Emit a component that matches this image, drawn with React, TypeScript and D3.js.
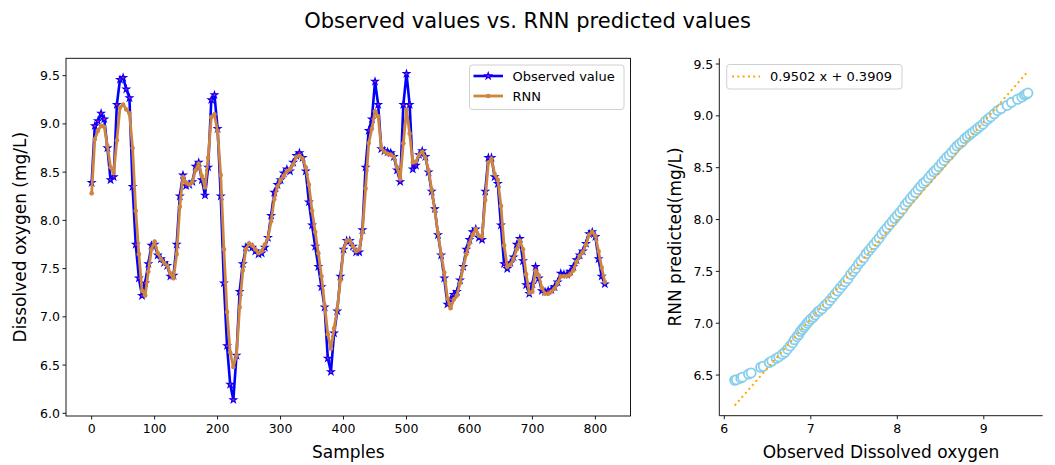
import React from 'react';
import * as d3 from 'd3';

// ---------- data ----------
const samples: number[] = d3.range(0, 816, 5);

const observed: number[] = [
  8.39, 8.98, 9.03, 9.11, 9.05, 8.75, 8.42, 8.45, 9.20, 9.46,
  9.48, 9.36, 9.27, 8.35, 7.75, 7.40, 7.22, 7.35, 7.55, 7.74,
  7.75, 7.64, 7.60, 7.56, 7.53, 7.42, 7.43, 7.75, 8.25, 8.47,
  8.36, 8.37, 8.40, 8.56, 8.60, 8.42, 8.26, 8.55, 9.25, 9.30,
  8.95, 8.25, 7.35, 6.70, 6.30, 6.14, 6.60, 7.26, 7.55, 7.72,
  7.74, 7.72, 7.68, 7.65, 7.66, 7.72, 7.82, 8.05, 8.29, 8.37,
  8.42, 8.49, 8.53, 8.51, 8.60, 8.67, 8.70, 8.65, 8.51, 8.19,
  7.95, 7.73, 7.52, 7.31, 7.10, 6.57, 6.43, 6.83, 7.06, 7.42,
  7.70, 7.79, 7.79, 7.73, 7.67, 7.67, 7.90, 8.55, 8.93, 9.05,
  9.44, 9.20, 8.74, 8.72, 8.71, 8.70, 8.66, 8.52, 8.40, 9.20,
  9.52, 9.20, 8.53, 8.57, 8.68, 8.72, 8.66, 8.50, 8.30, 8.12,
  7.85, 7.64, 7.40, 7.13, 7.18, 7.23, 7.26, 7.38, 7.52, 7.70,
  7.80, 7.88, 7.91, 7.82, 7.80, 8.30, 8.65, 8.65, 8.45, 8.38,
  7.95, 7.55, 7.50, 7.56, 7.62, 7.75, 7.81, 7.58, 7.33, 7.24,
  7.34, 7.52, 7.40, 7.27, 7.26, 7.27, 7.28, 7.31, 7.36, 7.45,
  7.44, 7.44, 7.47, 7.52, 7.59, 7.64, 7.68, 7.76, 7.86, 7.88,
  7.83, 7.60, 7.42, 7.34,
];

const rnn: number[] = [
  8.28, 8.84, 8.93, 8.98, 8.97, 8.77, 8.55, 8.49, 8.83, 9.17,
  9.20, 9.15, 9.11, 8.75, 8.10, 7.65, 7.27, 7.22, 7.47, 7.70,
  7.78, 7.66, 7.60, 7.56, 7.53, 7.45, 7.40, 7.65, 8.14, 8.45,
  8.39, 8.37, 8.40, 8.52, 8.59, 8.46, 8.34, 8.65, 9.07, 9.10,
  8.92, 8.47, 7.70, 7.05, 6.63, 6.48, 6.60, 7.10, 7.48, 7.70,
  7.76, 7.74, 7.70, 7.66, 7.68, 7.75, 7.82, 7.99, 8.22, 8.35,
  8.42, 8.46, 8.51, 8.53, 8.58, 8.66, 8.67, 8.64, 8.55, 8.37,
  8.10, 7.88, 7.66, 7.42, 7.12, 6.82, 6.67, 6.88, 7.08, 7.38,
  7.70, 7.79, 7.79, 7.73, 7.68, 7.70, 7.88, 8.33, 8.80, 8.95,
  9.13, 9.08, 8.75, 8.71, 8.69, 8.68, 8.66, 8.55, 8.43, 8.80,
  9.15, 8.90, 8.60, 8.61, 8.68, 8.71, 8.65, 8.52, 8.32, 8.10,
  7.87, 7.65, 7.46, 7.19, 7.09, 7.18, 7.22, 7.35, 7.51, 7.65,
  7.76, 7.85, 7.91, 7.84, 7.83, 8.21, 8.60, 8.64, 8.48, 8.42,
  8.15, 7.74, 7.52, 7.54, 7.60, 7.70, 7.79, 7.70, 7.44, 7.25,
  7.26, 7.48, 7.43, 7.30, 7.24, 7.24, 7.26, 7.29, 7.35, 7.42,
  7.42, 7.42, 7.44, 7.48, 7.57, 7.63, 7.67, 7.75, 7.85, 7.88,
  7.84, 7.68, 7.51, 7.36,
];

// scatter panel (observed vs predicted)
const scatterObs: number[] = [
  6.12, 6.14, 6.19, 6.21, 6.28, 6.31, 6.42, 6.45, 6.52, 6.55,
  6.60, 6.63, 6.67, 6.70, 6.73, 6.76, 6.79, 6.81, 6.84, 6.86,
  6.88, 6.90, 6.92, 6.94, 6.96, 6.98, 7.00, 7.03, 7.05, 7.08,
  7.10, 7.13, 7.16, 7.19, 7.22, 7.25, 7.28, 7.31, 7.34, 7.37,
  7.40, 7.43, 7.46, 7.49, 7.52, 7.55, 7.58, 7.61, 7.64, 7.67,
  7.70, 7.73, 7.76, 7.79, 7.82, 7.85, 7.88, 7.91, 7.94, 7.97,
  8.00, 8.03, 8.06, 8.09, 8.12, 8.15, 8.18, 8.21, 8.24, 8.27,
  8.30, 8.33, 8.36, 8.39, 8.42, 8.45, 8.48, 8.51, 8.54, 8.57,
  8.60, 8.63, 8.66, 8.69, 8.72, 8.75, 8.78, 8.81, 8.84, 8.87,
  8.90, 8.93, 8.96, 8.99, 9.02, 9.05, 9.08, 9.12, 9.16, 9.20,
  9.27, 9.32, 9.39, 9.44, 9.47, 9.49, 9.51,
];
const scatterPred: number[] = [
  6.45, 6.455, 6.47, 6.48, 6.51, 6.52, 6.575, 6.585, 6.62, 6.635,
  6.66, 6.675, 6.70, 6.72, 6.75, 6.78, 6.81, 6.84, 6.87, 6.89,
  6.92, 6.94, 6.96, 6.98, 7.00, 7.02, 7.04, 7.06, 7.08, 7.11,
  7.12, 7.14, 7.17, 7.19, 7.22, 7.25, 7.28, 7.31, 7.34, 7.37,
  7.40, 7.43, 7.47, 7.50, 7.53, 7.57, 7.60, 7.63, 7.67, 7.70,
  7.73, 7.76, 7.79, 7.82, 7.86, 7.89, 7.92, 7.95, 7.98, 8.01,
  8.04, 8.07, 8.10, 8.14, 8.17, 8.20, 8.23, 8.26, 8.29, 8.32,
  8.35, 8.37, 8.40, 8.43, 8.46, 8.48, 8.51, 8.54, 8.57, 8.60,
  8.62, 8.65, 8.68, 8.71, 8.73, 8.75, 8.78, 8.80, 8.82, 8.84,
  8.86, 8.88, 8.90, 8.92, 8.95, 8.97, 8.99, 9.02, 9.05, 9.07,
  9.10, 9.13, 9.16, 9.18, 9.20, 9.21, 9.22,
];

const fitSlope = 0.9502;
const fitIntercept = 0.3909;

const leftXTicks = [0, 100, 200, 300, 400, 500, 600, 700, 800];
const leftYTicks = [6.0, 6.5, 7.0, 7.5, 8.0, 8.5, 9.0, 9.5];
const rightXTicks = [6, 7, 8, 9];
const rightYTicks = [6.5, 7.0, 7.5, 8.0, 8.5, 9.0, 9.5];

const titleText = 'Observed values vs. RNN predicted values';
const legendLabels = ['Observed value', 'RNN'];
const fitLabel = `${fitSlope.toFixed(4)} x + ${fitIntercept.toFixed(4)}`;

// ---------- component ----------
const FONT = 'DejaVu Sans, sans-serif';
const BLUE = '#0000ff';
const PERU = '#cd853f';
const SKY = '#87ceeb';
const ORANGE = '#ffa500';

export default function App() {
  const W = 1055;
  const H = 465;

  // left panel
  const L = { x0: 66, x1: 630.5, y0: 58.3, y1: 416 };
  const lx = d3.scaleLinear().domain([-40.75, 855.75]).range([L.x0, L.x1]);
  const ly = d3.scaleLinear().domain([5.972, 9.68]).range([L.y1, L.y0]);

  // right panel
  const R = { x0: 719.3, x1: 1042.7, y0: 58.3, y1: 415.7 };
  const rx = d3.scaleLinear().domain([5.942, 9.681]).range([R.x0, R.x1]);
  const ry = d3.scaleLinear().domain([6.108, 9.555]).range([R.y1, R.y0]);

  const lineObs = d3
    .line<number>()
    .x((_, i) => lx(samples[i]))
    .y((d) => ly(d));

  const star = d3.symbol().type(d3.symbolStar).size(14)() as string;

  const xMin = d3.min(scatterObs) as number;
  const xMax = d3.max(scatterObs) as number;

  const fmt1 = d3.format('.1f');

  return (
    <svg
      width={W}
      height={H}
      style={{ position: 'absolute', left: 0, top: 0, background: '#fff' }}
      fontFamily={FONT}
    >
      <rect x={0} y={0} width={W} height={H} fill="#fff" />
      <text x={527.5} y={28} textAnchor="middle" fontSize={21} fill="#000">
        {titleText}
      </text>

      {/* ---------- left panel ---------- */}
      <g>
        <defs>
          <clipPath id="clipL">
            <rect x={L.x0} y={L.y0} width={L.x1 - L.x0} height={L.y1 - L.y0} />
          </clipPath>
        </defs>
        <g clipPath="url(#clipL)">
          <path d={lineObs(observed) as string} fill="none" stroke={BLUE} strokeWidth={2.6} strokeLinejoin="round" />
          {observed.map((v, i) => (
            <path
              key={'s' + i}
              d={star}
              transform={`translate(${lx(samples[i])},${ly(v)})`}
              fill="#ff0080"
              stroke={BLUE}
              strokeWidth={1.1}
            />
          ))}
          <path d={lineObs(rnn) as string} fill="none" stroke={PERU} strokeWidth={2.8} strokeLinejoin="round" />
          {rnn.map((v, i) => (
            <circle key={'c' + i} cx={lx(samples[i])} cy={ly(v)} r={2.3} fill={PERU} />
          ))}
        </g>
        <rect x={L.x0} y={L.y0} width={L.x1 - L.x0} height={L.y1 - L.y0} fill="none" stroke="#000" strokeWidth={0.9} />
        {leftXTicks.map((t) => (
          <g key={'lx' + t}>
            <line x1={lx(t)} x2={lx(t)} y1={L.y1} y2={L.y1 + 3.5} stroke="#000" strokeWidth={0.9} />
            <text x={lx(t)} y={L.y1 + 17} textAnchor="middle" fontSize={12.5}>
              {t}
            </text>
          </g>
        ))}
        {leftYTicks.map((t) => (
          <g key={'ly' + t}>
            <line x1={L.x0 - 3.5} x2={L.x0} y1={ly(t)} y2={ly(t)} stroke="#000" strokeWidth={0.9} />
            <text x={L.x0 - 6} y={ly(t) + 4.5} textAnchor="end" fontSize={12.5}>
              {fmt1(t)}
            </text>
          </g>
        ))}
        <text x={(L.x0 + L.x1) / 2} y={458} textAnchor="middle" fontSize={17}>
          Samples
        </text>
        <text
          transform={`translate(26,${(L.y0 + L.y1) / 2}) rotate(-90)`}
          textAnchor="middle"
          fontSize={17}
        >
          Dissolved oxygen (mg/L)
        </text>

        {/* legend */}
        <rect x={469.5} y={65} width={154.5} height={44.5} rx={3} fill="#fff" fillOpacity={0.8} stroke="#d0d0d0" strokeWidth={1} />
        <line x1={473.5} x2={503} y1={76} y2={76} stroke={BLUE} strokeWidth={2.6} />
        <path d={star} transform="translate(488.2,76)" fill="#ff0080" stroke={BLUE} strokeWidth={1.1} />
        <text x={512.5} y={80.5} fontSize={13}>
          {legendLabels[0]}
        </text>
        <line x1={473.5} x2={503} y1={96} y2={96} stroke={PERU} strokeWidth={2.8} />
        <circle cx={488.2} cy={96} r={2.3} fill={PERU} />
        <text x={512.5} y={100.5} fontSize={13}>
          {legendLabels[1]}
        </text>
      </g>

      {/* ---------- right panel ---------- */}
      <g>
        {scatterObs.map((v, i) => (
          <circle
            key={'p' + i}
            cx={rx(v)}
            cy={ry(scatterPred[i])}
            r={4.6}
            fill="#fff"
            stroke={SKY}
            strokeWidth={1.8}
          />
        ))}
        <line
          x1={rx(xMin)}
          y1={ry(fitSlope * xMin + fitIntercept)}
          x2={rx(xMax)}
          y2={ry(fitSlope * xMax + fitIntercept)}
          stroke={ORANGE}
          strokeWidth={2}
          strokeDasharray="2,3.3"
        />
        <line x1={R.x0} x2={R.x0} y1={R.y0} y2={R.y1} stroke="#000" strokeWidth={0.9} />
        <line x1={R.x0} x2={R.x1} y1={R.y1} y2={R.y1} stroke="#000" strokeWidth={0.9} />
        {rightXTicks.map((t) => (
          <g key={'rx' + t}>
            <line x1={rx(t)} x2={rx(t)} y1={R.y1} y2={R.y1 + 3.5} stroke="#000" strokeWidth={0.9} />
            <text x={rx(t)} y={R.y1 + 17} textAnchor="middle" fontSize={12.5}>
              {t}
            </text>
          </g>
        ))}
        {rightYTicks.map((t) => (
          <g key={'ry' + t}>
            <line x1={R.x0 - 3.5} x2={R.x0} y1={ry(t)} y2={ry(t)} stroke="#000" strokeWidth={0.9} />
            <text x={R.x0 - 6} y={ry(t) + 4.5} textAnchor="end" fontSize={12.5}>
              {fmt1(t)}
            </text>
          </g>
        ))}
        <text x={(R.x0 + R.x1) / 2} y={458} textAnchor="middle" fontSize={17}>
          Observed Dissolved oxygen
        </text>
        <text
          transform={`translate(681,${(R.y0 + R.y1) / 2}) rotate(-90)`}
          textAnchor="middle"
          fontSize={17}
        >
          RNN predicted(mg/L)
        </text>

        {/* legend */}
        <rect x={726.7} y={64.5} width={175.3} height={24.5} rx={3} fill="#fff" fillOpacity={0.8} stroke="#d0d0d0" strokeWidth={1} />
        <line x1={732} x2={760} y1={76.5} y2={76.5} stroke={ORANGE} strokeWidth={2} strokeDasharray="2,3.3" />
        <text x={770} y={81} fontSize={13}>
          {fitLabel}
        </text>
      </g>
    </svg>
  );
}
